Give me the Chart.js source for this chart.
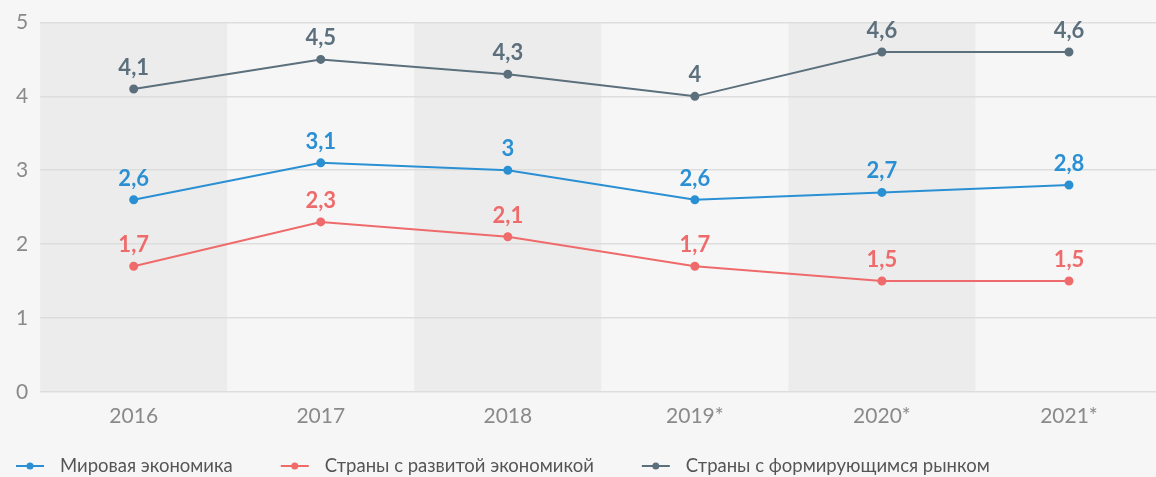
<!DOCTYPE html>
<html>
<head>
<meta charset="utf-8">
<script src="https://cdn.jsdelivr.net/npm/chart.js@4/dist/chart.umd.min.js"></script>
<style>
html,body{margin:0;padding:0;background:#f6f6f6;overflow:hidden;}
#wrap{position:relative;width:1168px;height:477px;}
</style>
</head>
<body>
<div id="wrap"><canvas id="c"></canvas></div>
<script>
const categories = ['2016','2017','2018','2019*','2020*','2021*'];
const worldEconomy = [2.6, 3.1, 3.0, 2.6, 2.7, 2.8];
const developed = [1.7, 2.3, 2.1, 1.7, 1.5, 1.5];
const emerging = [4.1, 4.5, 4.3, 4.0, 4.6, 4.6];
const seriesNames = ['Мировая экономика','Страны с развитой экономикой','Страны с формирующимся рынком'];
const yTicks = [0,1,2,3,4,5];

const colors = ['#2a90d3','#ef6b6b','#5b6f7c'];
const FONT = 'Lato, "Noto Sans", sans-serif';

const bgPlugin = {
  id:'bg',
  beforeDraw(chart){
    const {ctx, chartArea, scales} = chart;
    ctx.save();
    ctx.fillStyle = '#f6f6f6';
    ctx.fillRect(0,0,chart.width,chart.height);
    const x = scales.x;
    const half = (x.getPixelForValue(1) - x.getPixelForValue(0))/2;
    ctx.fillStyle = '#ececec';
    for(let i=0;i<categories.length;i+=2){
      const cx = x.getPixelForValue(i);
      ctx.fillRect(cx-half, chartArea.top, half*2, chartArea.bottom-chartArea.top);
    }
    ctx.restore();
  }
};

const labelPlugin = {
  id:'vlabels',
  afterDatasetsDraw(chart){
    const ctx = chart.ctx;
    ctx.save();
    ctx.font = 'bold 22px ' + FONT;
    ctx.textAlign = 'center';
    ctx.textBaseline = 'alphabetic';
    chart.data.datasets.forEach((ds, di)=>{
      const meta = chart.getDatasetMeta(di);
      ctx.fillStyle = ds.borderColor;
      meta.data.forEach((pt, i)=>{
        const v = ds.data[i];
        ctx.fillText(String(v).replace('.', ','), pt.x, pt.y - 14);
      });
    });
    ctx.restore();
  }
};

// custom legend drawn at the bottom
const legendPlugin = {
  id:'customLegend',
  afterDraw(chart){
    const ctx = chart.ctx;
    ctx.save();
    ctx.font = '18.5px ' + FONT;
    ctx.textBaseline = 'middle';
    ctx.textAlign = 'left';
    const y = chart.height - 11;
    let x = 16;
    chart.data.datasets.forEach(ds=>{
      const c = ds.borderColor;
      ctx.strokeStyle = c; ctx.lineWidth = 2;
      ctx.beginPath(); ctx.moveTo(x, y); ctx.lineTo(x+28, y); ctx.stroke();
      ctx.fillStyle = c;
      ctx.beginPath(); ctx.arc(x+14, y, 3.5, 0, Math.PI*2); ctx.fill();
      x += 44;
      ctx.fillStyle = '#555555';
      ctx.fillText(ds.label, x, y);
      x += ctx.measureText(ds.label).width + 48;
    });
    ctx.restore();
  }
};

const mk = (label, data, color) => ({
  label, data,
  borderColor: color, backgroundColor: color,
  pointBackgroundColor: color, pointBorderColor: color,
  borderWidth: 2, pointRadius: 3.5, pointHoverRadius: 3.5,
  tension: 0, pointStyle:'circle'
});

new Chart(document.getElementById('c'), {
  type:'line',
  data:{
    labels: categories,
    datasets:[
      mk(seriesNames[0], worldEconomy, colors[0]),
      mk(seriesNames[1], developed, colors[1]),
      mk(seriesNames[2], emerging, colors[2])
    ]
  },
  options:{
    responsive:true, maintainAspectRatio:false, animation:false,
    layout:{padding:{top:2,right:0,left:4,bottom:44}},
    plugins:{
      tooltip:{enabled:false},
      legend:{display:false}
    },
    scales:{
      x:{
        offset:true,
        grid:{display:false},
        border:{display:false},
        ticks:{color:'#8a8a8a', font:{family:FONT,size:21}, padding:4}
      },
      y:{
        min:0, max:5,
        afterBuildTicks(axis){ axis.ticks = yTicks.map(v=>({value:v})); },
        grid:{color:'#dddddd', drawTicks:false, lineWidth:1.5},
        border:{display:false},
        ticks:{color:'#8a8a8a', font:{family:FONT,size:21,lineHeight:1}, padding:12}
      }
    }
  },
  plugins:[bgPlugin, labelPlugin, legendPlugin]
});
</script>
</body>
</html>
